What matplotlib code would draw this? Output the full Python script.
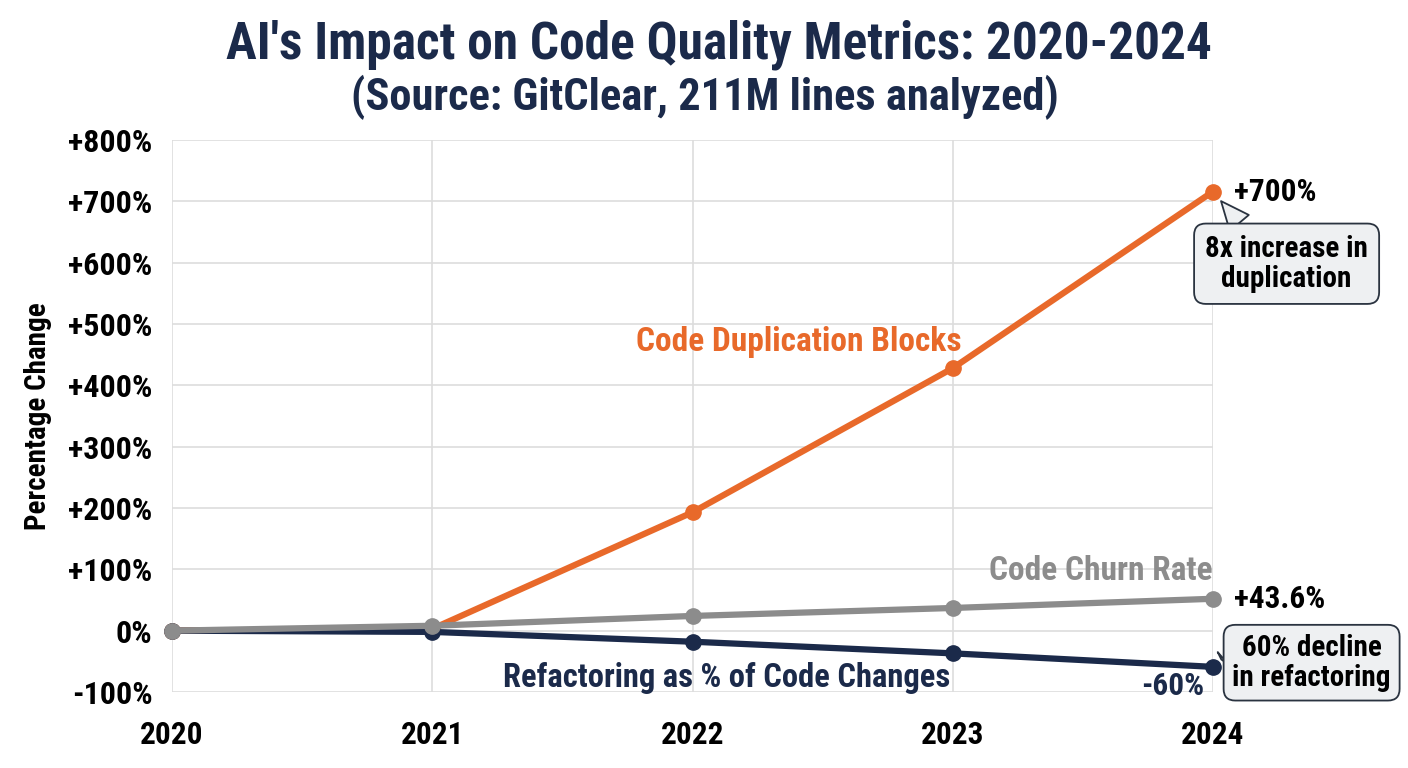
import matplotlib
matplotlib.use("Agg")
import matplotlib.pyplot as plt
from matplotlib import font_manager

years = [2020, 2021, 2022, 2023, 2024]
duplication = [0, 3, 193, 428, 716]
churn = [0, 8, 24, 37, 52]
refactoring = [0, -2, -18, -37, -59]
y_ticks = [-100, 0, 100, 200, 300, 400, 500, 600, 700, 800]

dup_end_label = "+700%"
churn_end_label = "+43.6%"
ref_end_label = "-60%"

ORANGE = "#E8692A"
GRAY = "#8C8C8C"
NAVY = "#1B2A4A"
W = 'heavy'

avail = {f.name for f in font_manager.fontManager.ttflist}
fam = next((f for f in ["Roboto Condensed", "Liberation Sans Narrow", "Roboto", "DejaVu Sans"] if f in avail), "DejaVu Sans")
plt.rcParams['font.family'] = [fam, 'DejaVu Sans']

fig = plt.figure(figsize=(14.08, 7.68), dpi=100)
ax = fig.add_axes([172/1408, 1-692/768, (1213-172)/1408, (692-140)/768])

for vals, col, z in [(refactoring, NAVY, 3), (churn, GRAY, 4), (duplication, ORANGE, 2)]:
    ax.plot(years, vals, color=col, lw=4.5, marker='o', ms=11, clip_on=False, zorder=z,
            solid_capstyle='round')

ax.set_xlim(2020, 2024)
ax.set_ylim(-100, 800)
ax.set_xticks(years)
ax.set_xticklabels([str(y) for y in years], fontsize=22.5, fontweight=W)
ax.set_yticks(y_ticks)
ax.set_yticklabels([("+%d%%" % v) if v > 0 else ("%d%%" % v) for v in y_ticks],
                   fontsize=23, fontweight=W)
ax.tick_params(axis='both', length=0)
ax.tick_params(axis='y', pad=14)
ax.tick_params(axis='x', pad=20)
for s in ax.spines.values():
    s.set_visible(False)
ax.grid(True, color="#DDDDDD", lw=1.2)
ax.set_axisbelow(True)

ax.set_ylabel("Percentage Change", fontsize=21, fontweight=W, labelpad=12)

fig.text(719/1408, 1-45/768, "AI's Impact on Code Quality Metrics: 2020-2024", ha='center', va='center',
         fontsize=37, fontweight=W, color=NAVY)
fig.text(705/1408, 1-97/768, "(Source: GitClear, 211M lines analyzed)", ha='center', va='center',
         fontsize=32, fontweight=W, color=NAVY)

# series labels
ax.text(2022.41, 471, "Code Duplication Blocks", color=ORANGE, fontsize=24, fontweight=W,
        ha='center', va='center')
ax.text(2024, 98, "Code Churn Rate", color=GRAY, fontsize=24, fontweight=W,
        ha='right', va='center')
ax.text(2022.13, -77, "Refactoring as % of Code Changes", color=NAVY, fontsize=23.5, fontweight=W,
        ha='center', va='center')

# end labels
ax.annotate(dup_end_label, (years[-1], duplication[-1]), xytext=(15, 0), textcoords='offset points',
            fontsize=22.5, fontweight=W, ha='left', va='center', annotation_clip=False)
ax.annotate(churn_end_label, (years[-1], churn[-1]), xytext=(15, 0), textcoords='offset points',
            fontsize=22.5, fontweight=W, ha='left', va='center', annotation_clip=False)
ax.annotate(ref_end_label, (years[-1], refactoring[-1]), xytext=(-6, -14), textcoords='offset points',
            fontsize=22.5, fontweight=W, ha='right', va='center', color=NAVY, annotation_clip=False)

BOXFC = "#EEF0F2"
BOXEC = "#2A3340"
ax.annotate("8x increase in\nduplication", (years[-1], duplication[-1]), xytext=(53, -52),
            textcoords='offset points', fontsize=21, fontweight=W, ha='center', va='center',
            bbox=dict(boxstyle="round,pad=0.38,rounding_size=0.4", fc=BOXFC, ec=BOXEC, lw=1.3),
            linespacing=1.1, annotation_clip=False, zorder=6,
            arrowprops=dict(arrowstyle="wedge,tail_width=0.85,shrink_factor=0.5", fc=BOXFC,
                            ec=BOXEC, lw=1.3, shrinkA=0, shrinkB=9, relpos=(0.27, 1.0)))
ax.annotate("60% decline\nin refactoring", (years[-1], refactoring[-1]), xytext=(71, 3),
            textcoords='offset points', fontsize=21, fontweight=W, ha='center', va='center',
            bbox=dict(boxstyle="round,pad=0.3,rounding_size=0.4", fc=BOXFC, ec=BOXEC, lw=1.3),
            linespacing=1.1, annotation_clip=False, zorder=6,
            arrowprops=dict(arrowstyle="wedge,tail_width=0.55,shrink_factor=0.5", fc=BOXFC,
                            ec=BOXEC, lw=1.3, shrinkA=0, shrinkB=8, relpos=(0.0, 0.72)))

fig.savefig("out.png", dpi=100)
